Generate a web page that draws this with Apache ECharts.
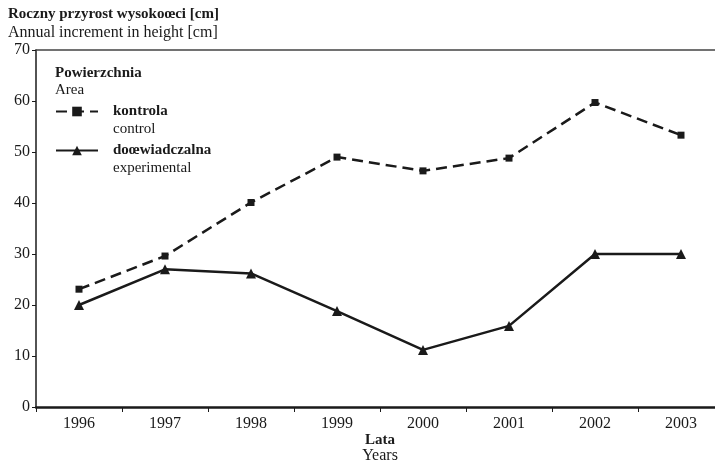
<!DOCTYPE html>
<html>
<head>
<meta charset="utf-8">
<script src="https://cdn.jsdelivr.net/npm/echarts@6/dist/echarts.min.js"></script>
<style>
  html, body { margin: 0; padding: 0; background: #fff; overflow: hidden; }
  #chart { width: 724px; height: 465px; }
</style>
</head>
<body>
<div id="chart"></div>
<script>
// lata / years
const years = ['1996', '1997', '1998', '1999', '2000', '2001', '2002', '2003']
// kontrola (control)
const kontrola = [23.1, 29.6, 40.1, 49.0, 46.3, 48.8, 59.7, 53.3]
// doswiadczalna (experimental)
const doswiadczalna = [20.0, 27.0, 26.2, 18.8, 11.2, 15.9, 30.0, 30.0]

const serif = '"Liberation Serif", "DejaVu Serif", serif'
const ink = '#1a1a1a'

const chart = echarts.init(document.getElementById('chart'))

chart.setOption({
  animation: false,
  textStyle: { fontFamily: serif, color: ink },
  title: {
    left: 6,
    top: 5,
    itemGap: 3,
    padding: [2, 2],
    text: 'Roczny przyrost wysokoœci [cm]',
    subtext: 'Annual increment in height [cm]',
    textStyle: { fontFamily: serif, fontSize: 15, fontWeight: 'bold', color: ink },
    subtextStyle: { fontFamily: serif, fontSize: 16, color: ink }
  },
  graphic: [
    {
      type: 'text',
      left: 55,
      top: 66,
      style: {
        text: '{b|Powierzchnia}\n{n|Area}',
        rich: {
          b: { fontFamily: serif, fontSize: 15, fontWeight: 'bold', fill: ink, lineHeight: 17 },
          n: { fontFamily: serif, fontSize: 15, fill: ink, lineHeight: 17 }
        }
      }
    }
  ],
  legend: {
    orient: 'vertical',
    left: 55,
    top: 104,
    padding: 0,
    itemWidth: 42,
    itemHeight: 12,
    itemGap: 6,
    data: ['kontrola', 'doœwiadczalna'],
    formatter: function (name) {
      const en = name === 'kontrola' ? 'control' : 'experimental'
      return '{b|' + name + '}\n{n|' + en + '}'
    },
    textStyle: {
      padding: [18, 0, 0, 10],
      rich: {
        b: { fontFamily: serif, fontSize: 15, fontWeight: 'bold', color: ink, lineHeight: 18 },
        n: { fontFamily: serif, fontSize: 15, color: ink, lineHeight: 18 }
      }
    }
  },
  grid: {
    left: 36,
    right: 0,
    top: 50,
    bottom: 58,
    outerBoundsMode: 'none'
  },
  xAxis: [
    {
      type: 'category',
      data: years,
      boundaryGap: true,
      name: '{b|Lata}\n{n|Years}',
      nameLocation: 'middle',
      nameMoveOverlap: false,
      nameGap: 25,
      nameTextStyle: {
        rich: {
          b: { fontFamily: serif, fontSize: 15, fontWeight: 'bold', color: ink, lineHeight: 16 },
          n: { fontFamily: serif, fontSize: 16, color: ink, lineHeight: 16 }
        }
      },
      axisLine: { lineStyle: { color: ink, width: 2.5 } },
      axisTick: { show: true, length: 5, lineStyle: { color: ink, width: 1 } },
      axisLabel: { fontFamily: serif, fontSize: 16, color: ink, margin: 9 }
    },
    {
      type: 'category',
      data: years,
      position: 'top',
      axisLine: { lineStyle: { color: '#444', width: 1.5 } },
      axisTick: { show: false },
      axisLabel: { show: false }
    }
  ],
  yAxis: {
    type: 'value',
    min: 0,
    max: 70,
    interval: 10,
    axisLine: { show: true, lineStyle: { color: ink, width: 1.5 } },
    axisTick: { show: true, length: 4, lineStyle: { color: ink, width: 1 } },
    axisLabel: { fontFamily: serif, fontSize: 16, color: ink, margin: 6 },
    splitLine: { show: false }
  },
  series: [
    {
      name: 'kontrola',
      type: 'line',
      data: kontrola,
      symbol: 'rect',
      symbolSize: 7,
      itemStyle: { color: ink },
      lineStyle: { color: ink, width: 2.5, type: [11, 6] }
    },
    {
      name: 'doœwiadczalna',
      type: 'line',
      data: doswiadczalna,
      symbol: 'triangle',
      symbolSize: 10,
      itemStyle: { color: ink },
      lineStyle: { color: ink, width: 2.5 }
    }
  ]
})
</script>
</body>
</html>
